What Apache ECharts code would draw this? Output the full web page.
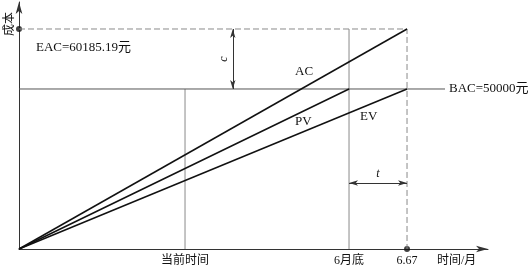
<!DOCTYPE html>
<html><head><meta charset="utf-8">
<script src="https://cdn.jsdelivr.net/npm/echarts@6/dist/echarts.min.js"></script>
<style>html,body{margin:0;padding:0;background:#fff}#c{width:529px;height:270px}</style>
</head><body><div id="c"></div>
<script>
// schematic time positions (months)
const tNow = 2.854;      // 当前时间
const tJune = 5.673;     // 6月底
const tEnd = 6.67;       // 6.67
const xTickValues = [tNow, tJune, tEnd];
const xTickLabels = ['当前时间', '6月底', '6.67'];
// costs
const BAC = 50000;
const EAC = 60185.19;
const yMin = 22840;      // schematic origin of cost axis
const yMax = 64768;
const xMax = 8.062;
const bacLineEnd = 7.323;
const cArrowX = 3.675;   // position of the cost-variance arrow
const tArrowY = 34044;   // height of the time-variance arrow
// series end points
const acData = [[0, yMin], [tEnd, EAC]];
const pvData = [[0, yMin], [tJune, BAC]];
const evData = [[0, yMin], [tEnd, BAC]];

const font = '"Liberation Serif","Noto Sans CJK SC",serif';
const gray = '#8a8a8a';
const chart = echarts.init(document.getElementById('c'));
chart.setOption({
  animation: false,
  grid: {left: 19, right: 41, top: 2, bottom: 21},
  xAxis: {
    type: 'value', min: 0, max: xMax,
    axisLine: {show: true, symbol: ['none', 'arrow'], symbolSize: [5, 12], lineStyle: {color: '#333', width: 1}},
    axisTick: {show: false},
    splitLine: {show: false},
    axisLabel: {
      customValues: xTickValues, margin: 6, color: '#111', fontSize: 12, fontFamily: font,
      formatter: v => { const i = xTickValues.findIndex(x => Math.abs(x - v) < 1e-6); return i >= 0 ? xTickLabels[i] : ''; }
    }
  },
  yAxis: {
    type: 'value', min: yMin, max: yMax,
    axisLine: {show: true, symbol: ['none', 'arrow'], symbolSize: [5, 12], lineStyle: {color: '#333', width: 1}},
    axisTick: {show: false}, axisLabel: {show: false}, splitLine: {show: false}
  },
  graphic: [
    {type: 'text', x: 2, y: 36, rotation: Math.PI / 2, style: {text: '成本', font: '12px "Noto Sans CJK SC"', fill: '#111'}},
    {type: 'text', left: 36, top: 41, style: {text: 'EAC=60185.19元', font: '13px ' + font, fill: '#111'}},
    {type: 'text', left: 295, top: 65, style: {text: 'AC', font: '13px ' + font, fill: '#111'}},
    {type: 'text', left: 295, top: 115, style: {text: 'PV', font: '13px ' + font, fill: '#111'}},
    {type: 'text', left: 360, top: 110, style: {text: 'EV', font: '13px ' + font, fill: '#111'}},
    {type: 'text', left: 437, top: 255, style: {text: '时间/月', font: '12px ' + font, fill: '#111'}}
  ],
  series: [
    {type: 'line', data: [[0, EAC], [tEnd, EAC], [tEnd, yMin]], symbol: 'none', lineStyle: {color: gray, width: 1, type: [6, 3]}, silent: true},
    {type: 'line', data: [[tJune, yMin], [tJune, EAC]], symbol: 'none', lineStyle: {color: gray, width: 1}, silent: true},
    {type: 'line', data: [[tNow, yMin], [tNow, BAC]], symbol: 'none', lineStyle: {color: gray, width: 1}, silent: true},
    {type: 'line', data: [[0, BAC], [bacLineEnd, BAC]], symbol: 'none', lineStyle: {color: '#555', width: 1},
      endLabel: {show: true, formatter: 'BAC=50000元', fontSize: 13, fontFamily: font, color: '#111', distance: 4}},
    {type: 'line', name: 'AC', data: acData, symbol: 'none', lineStyle: {color: '#111', width: 1.5}},
    {type: 'line', name: 'PV', data: pvData, symbol: 'none', lineStyle: {color: '#111', width: 1.5}},
    {type: 'line', name: 'EV', data: evData, symbol: 'none', lineStyle: {color: '#111', width: 1.5},
      markLine: {
        silent: true, symbol: ['arrow', 'arrow'], symbolSize: [4, 9],
        lineStyle: {color: '#333', width: 1, type: 'solid'},
        label: {show: true, position: 'insideMiddleTop', fontStyle: 'italic', fontFamily: font, fontSize: 12, color: '#111', distance: 3},
        data: [
          [{coord: [cArrowX, BAC], label: {formatter: 'c'}}, {coord: [cArrowX, EAC]}],
          [{coord: [tJune, tArrowY], label: {formatter: 't'}}, {coord: [tEnd, tArrowY]}]
        ]
      }},
    {type: 'scatter', data: [[0, EAC], [tEnd, yMin]], symbolSize: 6, itemStyle: {color: '#111'}, silent: true}
  ]
});
</script></body></html>
